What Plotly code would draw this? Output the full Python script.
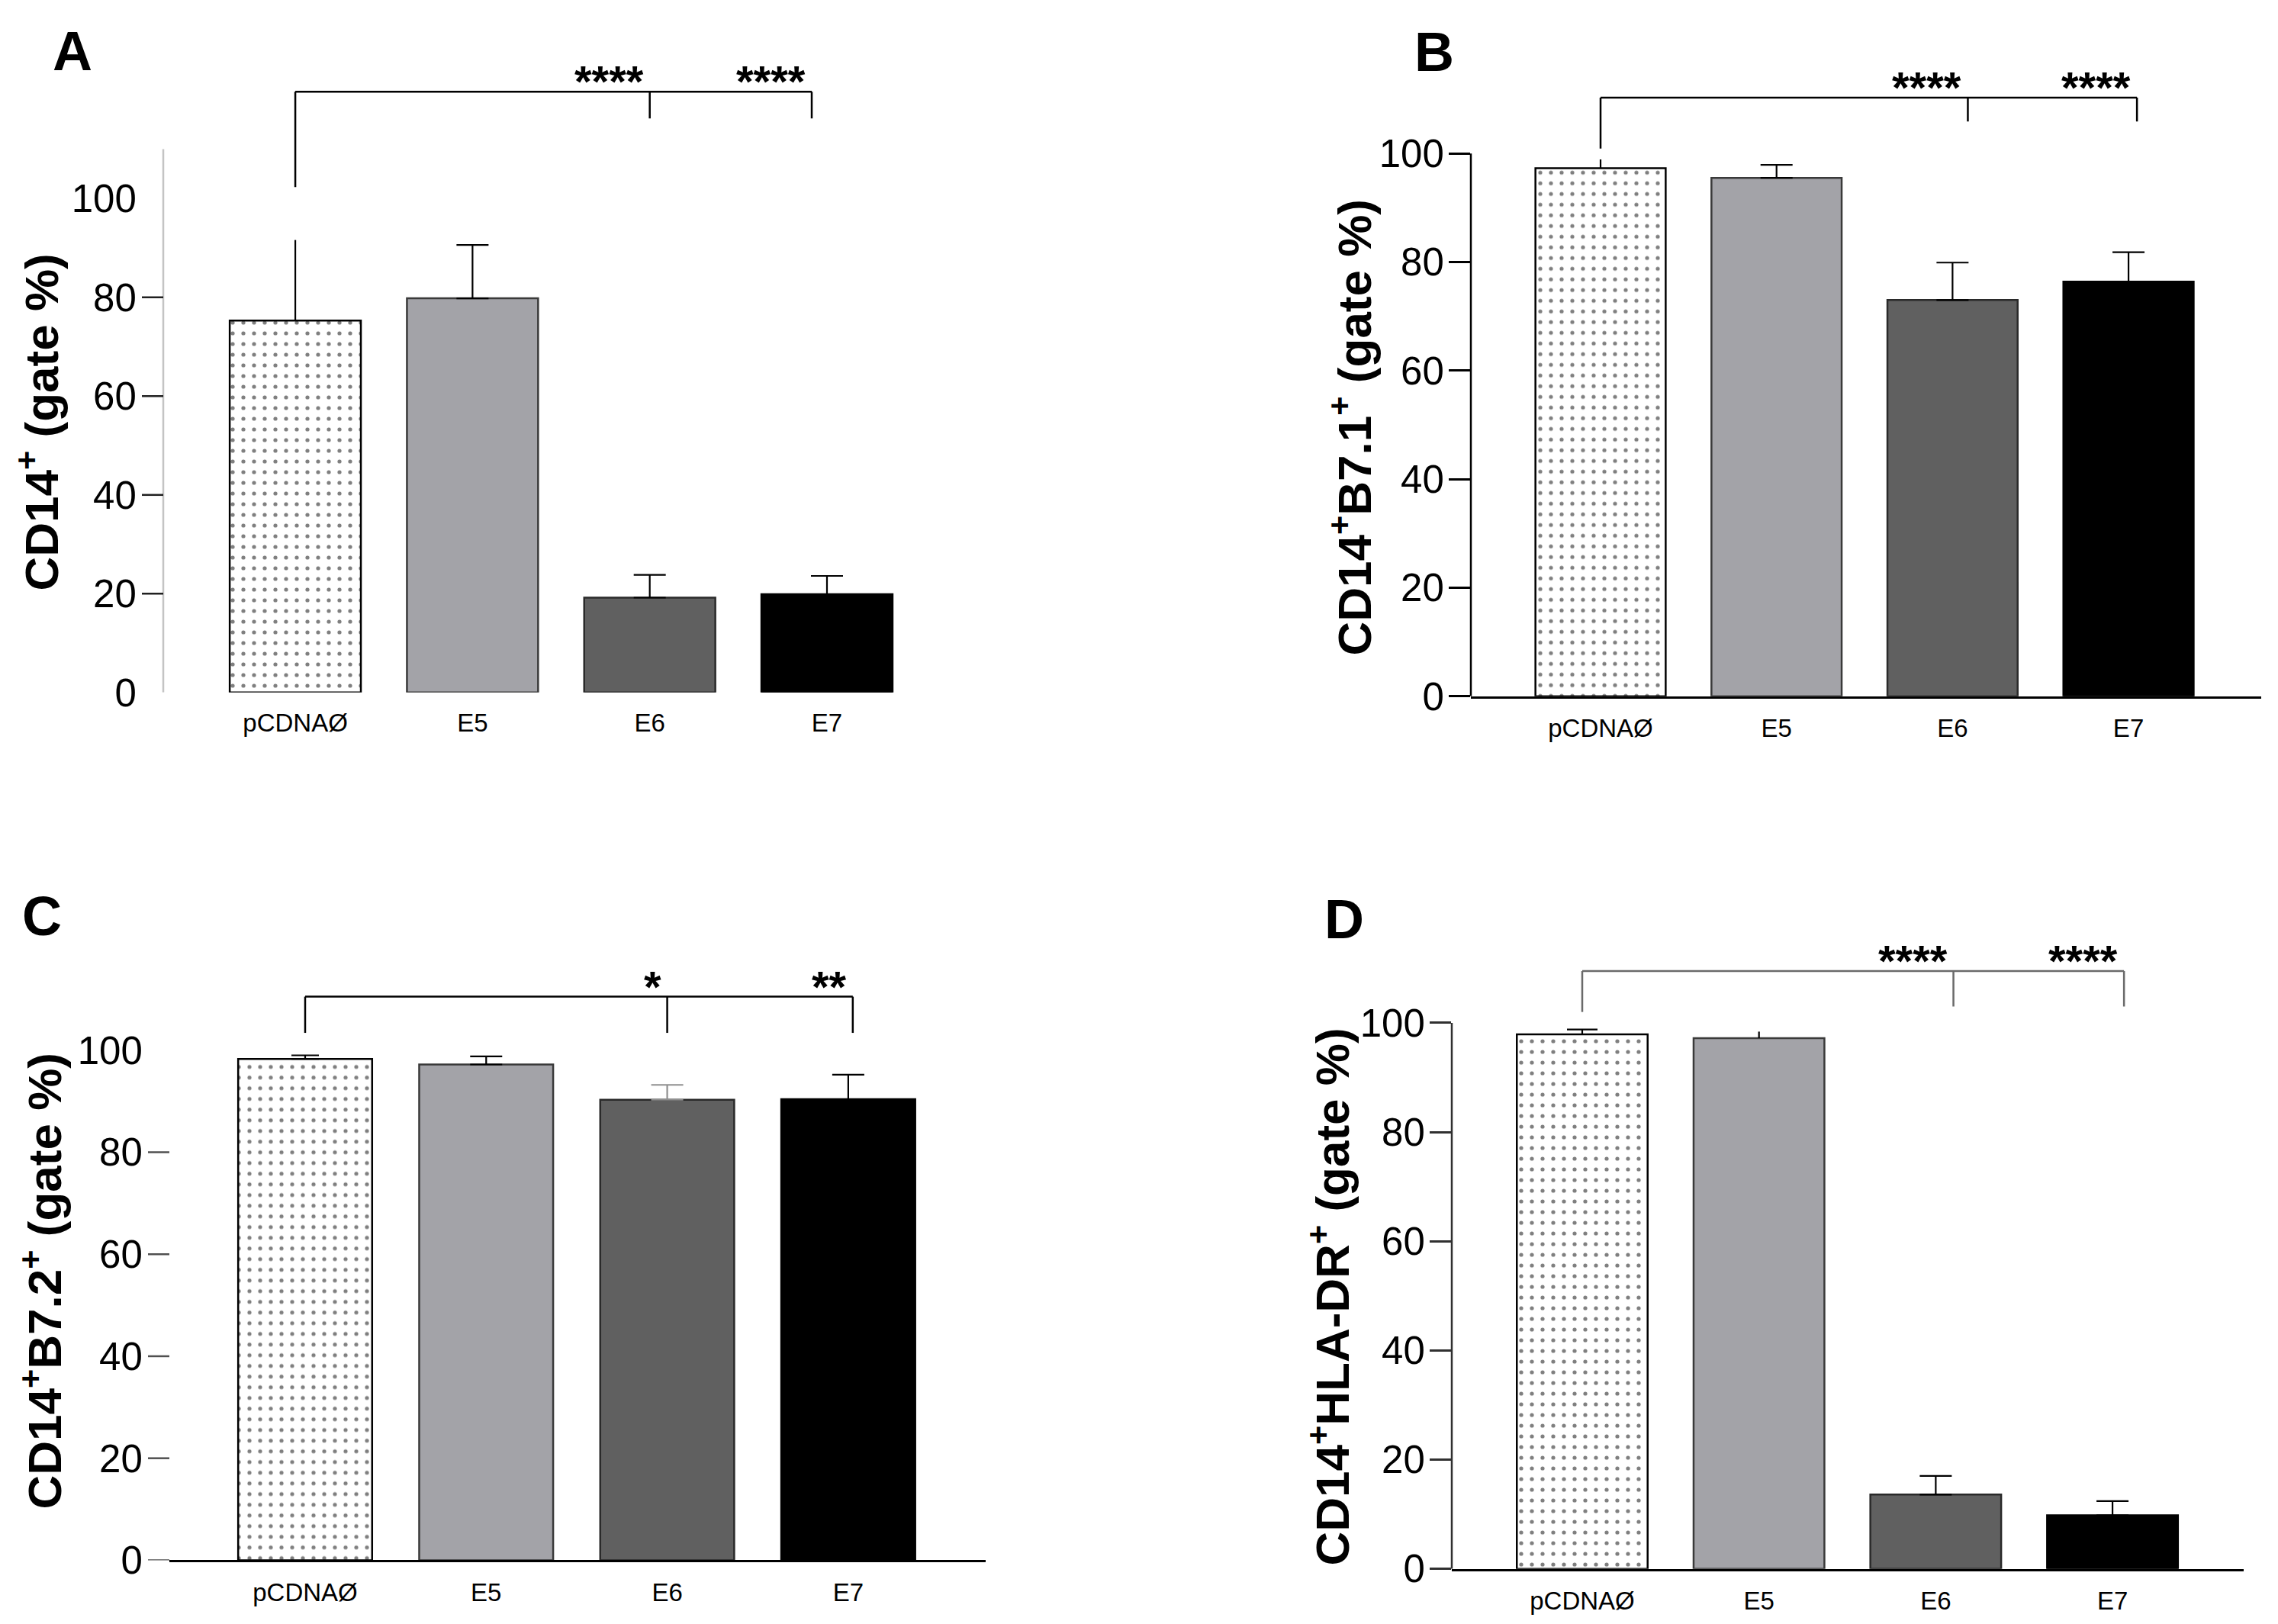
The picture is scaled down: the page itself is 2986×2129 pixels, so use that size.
import plotly.graph_objects as go

W, H = 2986, 2129          # reference picture size
HF = 2160                  # figure height (photo is squeezed vertically to H)
SY = HF / H

# ---------------- data ----------------
categories = ["pCDNAØ", "E5", "E6", "E7"]
y_tick_vals = [0, 20, 40, 60, 80, 100]

a_means = [75.3, 79.8, 19.2, 19.9]
a_sd = [16.3, 10.8, 4.6, 3.7]
b_means = [97.3, 95.5, 73.0, 76.4]
b_sd = [1.6, 2.4, 6.9, 5.4]
c_means = [98.3, 97.2, 90.3, 90.4]
c_sd = [0.7, 1.6, 2.9, 4.8]
d_means = [97.9, 97.2, 13.6, 9.8]
d_sd = [0.9, 1.2, 3.4, 2.6]

sig_a = ["****", "****"]
sig_b = ["****", "****"]
sig_c = ["*", "**"]
sig_d = ["****", "****"]
sig_targets = [2, 3]   # E6, E7 compared with pCDNAØ

panel_letters = ["A", "B", "C", "D"]
y_titles = [
    "CD14<sup>+</sup> (gate %)",
    "CD14<sup>+</sup>B7.1<sup>+</sup> (gate %)",
    "CD14<sup>+</sup>B7.2<sup>+</sup> (gate %)",
    "CD14<sup>+</sup>HLA-DR<sup>+</sup> (gate %)",
]

# ---------------- styles / layout geometry (reference pixels) ----------------
FONT = "Liberation Sans, Arial, sans-serif"
bar_colors = ["#ffffff", "#a3a3a8", "#606060", "#000000"]
bar_line_colors = ["#000000", "#3a3a3a", "#2a2a2a", "#000000"]
bar_patterns = [".", "", "", ""]

panels = [
    dict(means=a_means, sd=a_sd, sig=sig_a, left=214, right=1258, zero=907, ppu=6.47,
         xmin=-0.745, xmax=3.749, ymax=130, yline_top=110, yline_color="#c4c4c4",
         xline=False, shape_ticks=[20, 40, 60, 80], tick_color="#202020",
         bracket_y=121.6, left_leg=102.3, leg_bottom=116.2, leg_off=[0.0, -0.086],
         bracket_color="#000000", err_colors=["#000000"] * 4, caps=[0, 21, 21, 21],
         letter=(95, 67), title=(49, 553)),
    dict(means=b_means, sd=b_sd, sig=sig_b, left=1928, right=2964, zero=912, ppu=7.11,
         xmin=-0.737, xmax=3.754, ymax=125, yline_top=100, yline_color="#000000",
         xline=True, shape_ticks=None, tick_color="#000000",
         bracket_y=110.3, left_leg=100.9, leg_bottom=105.9, leg_off=[0.087, 0.048],
         bracket_color="#000000", err_colors=["#000000"] * 4, caps=[0, 21, 21, 21],
         letter=(1880, 68), title=(1770, 560)),
    dict(means=c_means, sd=c_sd, sig=sig_c, left=222, right=1292, zero=2043.5, ppu=6.68,
         xmin=-0.750, xmax=3.759, ymax=125, yline_top=None, yline_color=None,
         xline=True, shape_ticks=[0, 20, 40, 60, 80], tick_color="#505050",
         bracket_y=110.5, left_leg=103.4, leg_bottom=103.4, leg_off=[0.0, 0.025],
         bracket_color="#000000", err_colors=["#000000", "#000000", "#909090", "#000000"],
         caps=[18, 21, 21, 21],
         letter=(55, 1200), title=(54, 1678)),
    dict(means=d_means, sd=d_sd, sig=sig_d, left=1903, right=2941, zero=2054.7, ppu=7.15,
         xmin=-0.738, xmax=3.742, ymax=125, yline_top=100, yline_color="#303030",
         xline=True, shape_ticks=None, tick_color="#303030",
         bracket_y=109.5, left_leg=102.0, leg_bottom=103.0, leg_off=[0.10, 0.065],
         bracket_color="#6a6a6a", err_colors=["#000000"] * 4, caps=[20, 0, 21, 21],
         letter=(1762, 1204), title=(1742, 1699)),
]

TICKLEN = 28
BAR_W = 0.74

fig = go.Figure()
shapes = []
annotations = []
xs = list(range(len(categories)))

for p_i, p in enumerate(panels):
    n = "" if p_i == 0 else str(p_i + 1)
    xa, ya = "x" + n, "y" + n
    xkey, ykey = "xaxis" + n, "yaxis" + n

    for i in xs:
        fig.add_trace(go.Bar(
            x=[i], y=[p["means"][i]], xaxis=xa, yaxis=ya, width=BAR_W,
            marker=dict(color=bar_colors[i],
                        line=dict(color=bar_line_colors[i], width=2.5),
                        pattern=dict(shape=bar_patterns[i], fgcolor="#000000",
                                     bgcolor="#ffffff", size=14, solidity=0.11,
                                     fillmode="overlay") if bar_patterns[i] else None),
            error_y=dict(type="data", array=[p["sd"][i]], arrayminus=[0],
                         symmetric=False, color=p["err_colors"][i],
                         thickness=2.2, width=p["caps"][i]),
            showlegend=False, hoverinfo="skip",
        ))

    zero_px = p["zero"] * SY
    plot_h = p["ymax"] * p["ppu"] * SY
    top_px = zero_px - plot_h
    use_axis_ticks = p["shape_ticks"] is None
    fig.layout[xkey] = dict(
        domain=[p["left"] / W, p["right"] / W], anchor=ya,
        range=[p["xmin"], p["xmax"]], tickvals=xs, ticktext=categories,
        showline=p["xline"], linecolor="#000000", linewidth=2.5,
        ticks="outside", ticklen=11, tickcolor="rgba(0,0,0,0)",
        tickfont=dict(family=FONT, size=33, color="#000000"),
        showgrid=False, zeroline=False, fixedrange=True,
    )
    fig.layout[ykey] = dict(
        domain=[1 - zero_px / HF, 1 - top_px / HF], anchor=xa,
        range=[0, p["ymax"]], tickvals=y_tick_vals,
        ticktext=[str(v) for v in y_tick_vals],
        showline=False, ticks="outside", ticklen=TICKLEN, tickwidth=2.5,
        tickcolor=p["tick_color"] if use_axis_ticks else "rgba(0,0,0,0)",
        tickfont=dict(family=FONT, size=51, color="#000000"),
        ticklabelstandoff=-4,
        showgrid=False, zeroline=False, fixedrange=True,
    )

    plot_w = p["right"] - p["left"]
    # y axis line
    if p["yline_top"] is not None:
        shapes.append(dict(type="line", xref=xa + " domain", yref=ya,
                           x0=0, x1=0, y0=0, y1=p["yline_top"],
                           line=dict(color=p["yline_color"], width=2.5)))
    # custom tick marks
    if p["shape_ticks"]:
        for tv in p["shape_ticks"]:
            shapes.append(dict(type="line", xref=xa + " domain", yref=ya,
                               x0=-TICKLEN / plot_w, x1=0, y0=tv, y1=tv,
                               line=dict(color=p["tick_color"], width=2.5)))

    # significance bracket
    bc = p["bracket_color"]
    legs = [sig_targets[k] + p["leg_off"][k] for k in range(len(sig_targets))]
    shapes.append(dict(type="line", xref=xa, yref=ya, x0=0, x1=max(legs),
                       y0=p["bracket_y"], y1=p["bracket_y"],
                       line=dict(color=bc, width=2.5)))
    shapes.append(dict(type="line", xref=xa, yref=ya, x0=0, x1=0,
                       y0=p["left_leg"], y1=p["bracket_y"],
                       line=dict(color=bc, width=2.5)))
    for k, lx in enumerate(legs):
        shapes.append(dict(type="line", xref=xa, yref=ya, x0=lx, x1=lx,
                           y0=p["leg_bottom"], y1=p["bracket_y"],
                           line=dict(color=bc, width=2.5)))
        annotations.append(dict(xref=xa, yref=ya, x=lx, y=p["bracket_y"],
                                text="<b>" + p["sig"][k] + "</b>", showarrow=False,
                                xanchor="right", yanchor="bottom", xshift=-6, yshift=-21,
                                font=dict(family=FONT, size=58, color="#000000")))

    # panel letter
    lx_, ly_ = p["letter"]
    annotations.append(dict(xref="paper", yref="paper", x=lx_ / W, y=1 - ly_ * SY / HF,
                            text="<b>" + panel_letters[p_i] + "</b>", showarrow=False,
                            xanchor="center", yanchor="middle",
                            font=dict(family=FONT, size=72, color="#000000")))
    # y-axis title
    tx, ty = p["title"]
    annotations.append(dict(xref="paper", yref="paper", x=tx / W, y=1 - ty * SY / HF,
                            text="<b>" + y_titles[p_i] + "</b>", showarrow=False,
                            textangle=-90, xanchor="center", yanchor="middle",
                            font=dict(family=FONT, size=62, color="#000000")))

fig.update_layout(
    width=W, height=HF, margin=dict(l=0, r=0, t=0, b=0),
    paper_bgcolor="#ffffff", plot_bgcolor="#ffffff",
    shapes=shapes, annotations=annotations, barmode="overlay",
    font=dict(family=FONT, color="#000000"),
)

fig.write_html(
    "out.html",
    config={"displayModeBar": False},
    post_script="document.body.style.margin='0px';document.body.style.overflow='hidden';",
)
